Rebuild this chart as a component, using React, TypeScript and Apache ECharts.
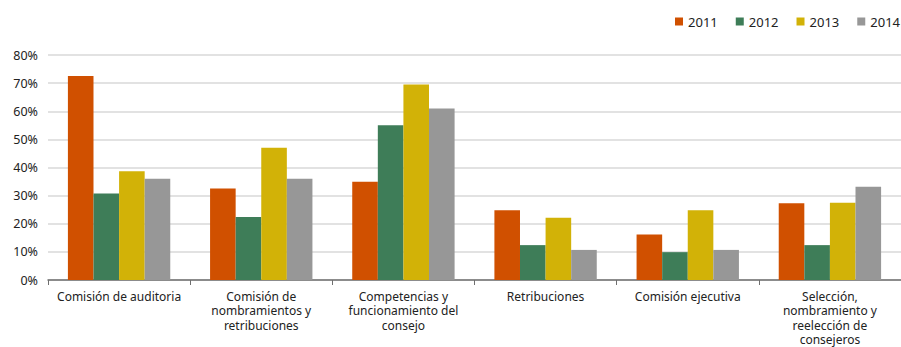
import React, { useEffect, useRef } from "react";
import * as echarts from "echarts";

// Committee categories and their wrapped axis labels
const categories = [
  "Comisión de auditoria",
  "Comisión de nombramientos y retribuciones",
  "Competencias y funcionamiento del consejo",
  "Retribuciones",
  "Comisión ejecutiva",
  "Selección, nombramiento y reelección de consejeros",
];
const categoryLabels = [
  "Comisión de auditoria",
  "Comisión de\nnombramientos y\nretribuciones",
  "Competencias y\nfuncionamiento del\nconsejo",
  "Retribuciones",
  "Comisión ejecutiva",
  "Selección,\nnombramiento y\nreelección de\nconsejeros",
];

const years = ["2011", "2012", "2013", "2014"];

// Percentages per year, one value per category
const values2011 = [72.5, 32.5, 34.9, 24.8, 16.2, 27.3];
const values2012 = [30.8, 22.4, 55.0, 12.4, 9.9, 12.4];
const values2013 = [38.7, 47.0, 69.5, 22.1, 24.8, 27.5];
const values2014 = [36.0, 36.0, 61.0, 10.7, 10.7, 33.2];

const yTicks = [0, 10, 20, 30, 40, 50, 60, 70, 80];

const seriesValues = [values2011, values2012, values2013, values2014];
const colors = ["#D05000", "#3E7D58", "#D2B207", "#979797"];

const FONT = "'Noto Sans', sans-serif";

export default function App() {
  const ref = useRef<HTMLDivElement>(null);

  useEffect(() => {
    document.body.style.margin = "0";
    if (!ref.current) return;
    const chart = echarts.init(ref.current, undefined, { renderer: "svg" });
    chart.setOption({
      animation: false,
      backgroundColor: "#ffffff",
      textStyle: { fontFamily: FONT },
      legend: {
        top: 10,
        right: -4,
        itemWidth: 8,
        itemHeight: 8,
        itemGap: 18,
        icon: "rect",
        textStyle: { fontSize: 13, color: "#222", fontFamily: FONT },
        data: years,
      },
      grid: { left: 48, right: -5, top: 55, bottom: 66, containLabel: false },
      xAxis: {
        type: "category",
        data: categories,
        axisLine: { lineStyle: { color: "#6f6f6f", width: 1.5 } },
        axisTick: { show: true, length: 5, lineStyle: { color: "#6f6f6f" } },
        axisLabel: {
          interval: 0,
          margin: 9,
          fontSize: 12,
          lineHeight: 14.5,
          color: "#222",
          fontFamily: FONT,
          formatter: (_v: string, i: number) => categoryLabels[i],
        },
      },
      yAxis: {
        type: "value",
        min: 0,
        max: yTicks[yTicks.length - 1],
        interval: 10,
        axisLine: { show: false },
        axisTick: { show: false },
        axisLabel: {
          margin: 10,
          fontSize: 12.5,
          color: "#222",
          fontFamily: FONT,
          formatter: (v: number) => `${v}%`,
        },
        splitLine: { lineStyle: { color: "#d9d9d9", width: 1.5 } },
      },
      series: years.map((y, i) => ({
        name: y,
        type: "bar",
        data: seriesValues[i],
        barGap: "0%",
        barCategoryGap: "28%",
        itemStyle: { color: colors[i] },
      })),
    });
    return () => chart.dispose();
  }, []);

  return <div ref={ref} style={{ width: 901, height: 347 }} />;
}
